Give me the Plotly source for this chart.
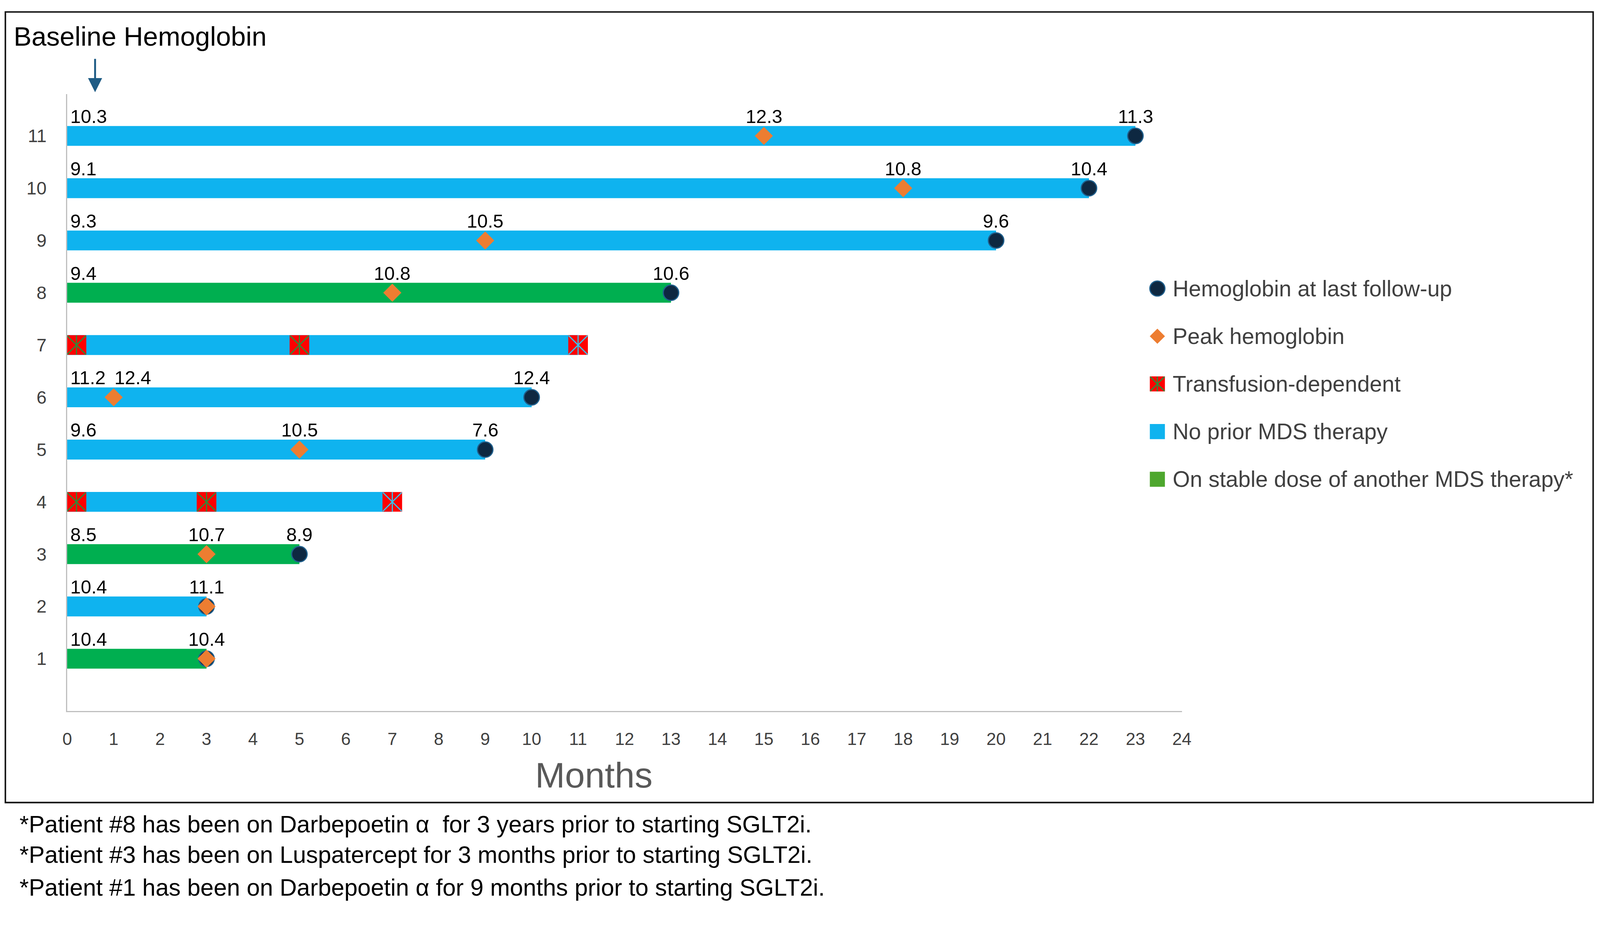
import plotly.graph_objects as go

# ---------------- data ----------------
patients = [1, 2, 3, 4, 5, 6, 7, 8, 9, 10, 11]
duration_months = [3, 3, 5, 7, 9, 10, 11, 13, 20, 22, 23]
therapy = ["stable", "none", "stable", "none", "none", "none", "none", "stable", "none", "none", "none"]

baseline_hb = [10.4, 10.4, 8.5, None, 9.6, 11.2, None, 9.4, 9.3, 9.1, 10.3]
peak_month = [3, 3, 3, None, 5, 1, None, 7, 9, 18, 15]
peak_hb = [10.4, 11.1, 10.7, None, 10.5, 12.4, None, 10.8, 10.5, 10.8, 12.3]
last_hb = [10.4, 11.1, 8.9, None, 7.6, 12.4, None, 10.6, 9.6, 10.4, 11.3]

transfusion_patient = [4, 4, 4, 7, 7, 7]
transfusion_month = [0.2, 3, 7, 0.2, 5, 11]

x_ticks = list(range(0, 25))
y_ticks = patients

legend_labels = ["Hemoglobin at last follow-up", "Peak hemoglobin", "Transfusion-dependent",
                 "No prior MDS therapy", "On stable dose of another MDS therapy*"]
footnotes = [
    "*Patient #8 has been on Darbepoetin \u03b1  for 3 years prior to starting SGLT2i.",
    "*Patient #3 has been on Luspatercept for 3 months prior to starting SGLT2i.",
    "*Patient #1 has been on Darbepoetin \u03b1 for 9 months prior to starting SGLT2i.",
]
title_text = "Baseline Hemoglobin"
x_title = "Months"

# ---------------- style ----------------
FONT = "Liberation Sans"
BLUE = "#0FB3EF"
GREEN = "#00AF50"
GREEN_LEG = "#4EA72E"
ORANGE = "#ED7D31"
NAVY = "#0E2841"
NAVY_EDGE = "#1F5F8C"
RED = "#FF0000"
XGREEN = "#2E8B3A"
XBLUE = "#35C3EE"

# page geometry: design in reference pixels, convert to page CSS px
S = 4096 / 4244
OFF = 8

def fx(r):
    return r * S - OFF

def fy(r):
    return r * S - OFF

def sz(v):
    return v * S

FW, FH = 4080, 2305
ML = fx(178)
MT = fy(250)
PLOT_BOTTOM = fy(1887)
MB = FH - PLOT_BOTTOM
PAPER_RIGHT = fx(4210)
MR = FW - PAPER_RIGHT
PW = PAPER_RIGHT - ML
PH = PLOT_BOTTOM - MT

def paper_x(r):
    return (fx(r) - ML) / PW

def paper_y(r):
    return (PLOT_BOTTOM - fy(r)) / PH

fig = go.Figure()

# bars
for key, col in [("none", BLUE), ("stable", GREEN)]:
    ys = [p for p, t in zip(patients, therapy) if t == key]
    xs = [d for d, t in zip(duration_months, therapy) if t == key]
    fig.add_trace(go.Bar(orientation="h", y=ys, x=xs, base=0, width=0.38,
                         marker=dict(color=col, line=dict(width=0)),
                         showlegend=False, hoverinfo="skip"))

# transfusion markers
dur_map = dict(zip(patients, duration_months))
fig.add_trace(go.Scatter(x=transfusion_month, y=transfusion_patient, mode="markers",
                         marker=dict(symbol="square", size=sz(52), color=RED, line=dict(width=0)),
                         showlegend=False, hoverinfo="skip"))
line_cols = [XBLUE if m == dur_map[p] else XGREEN for m, p in zip(transfusion_month, transfusion_patient)]
fig.add_trace(go.Scatter(x=transfusion_month, y=transfusion_patient, mode="markers",
                         marker=dict(symbol="x-thin-open", size=sz(50), color=line_cols,
                                     line=dict(width=3, color=line_cols)),
                         showlegend=False, hoverinfo="skip"))
fig.add_trace(go.Scatter(x=transfusion_month, y=transfusion_patient, mode="markers",
                         marker=dict(symbol="line-ns-open", size=sz(37), color=line_cols,
                                     line=dict(width=3, color=line_cols)),
                         showlegend=False, hoverinfo="skip"))

# last follow-up circles
lx = [d for d, v in zip(duration_months, last_hb) if v is not None]
ly = [p for p, v in zip(patients, last_hb) if v is not None]
fig.add_trace(go.Scatter(x=lx, y=ly, mode="markers",
                         marker=dict(symbol="circle", size=sz(41), color=NAVY,
                                     line=dict(width=3, color=NAVY_EDGE)),
                         showlegend=False, hoverinfo="skip"))

# peak diamonds
px_ = [m for m in peak_month if m is not None]
py_ = [p for p, m in zip(patients, peak_month) if m is not None]
fig.add_trace(go.Scatter(x=px_, y=py_, mode="markers",
                         marker=dict(symbol="diamond", size=sz(37), color=ORANGE, line=dict(width=0)),
                         showlegend=False, hoverinfo="skip"))

# data labels
ann = []
LBL = dict(family=FONT, size=sz(50), color="#000000")
YS = sz(52)
for p, b, pm, ph, d, lh in zip(patients, baseline_hb, peak_month, peak_hb, duration_months, last_hb):
    if b is not None:
        ann.append(dict(x=0, y=p, xref="x", yref="y", text=f"{b:.1f}", showarrow=False,
                        xanchor="left", yanchor="middle", xshift=sz(6), yshift=YS, font=LBL))
    if pm is not None:
        anchor = "left" if pm < 1.5 else "center"
        ann.append(dict(x=pm, y=p, xref="x", yref="y", text=f"{ph:.1f}", showarrow=False,
                        xanchor=anchor, yanchor="middle", yshift=YS, font=LBL))
    if lh is not None and d != pm:
        ann.append(dict(x=d, y=p, xref="x", yref="y", text=f"{lh:.1f}", showarrow=False,
                        xanchor="center", yanchor="middle", yshift=YS, font=LBL))

# ---------------- manual legend (own axes) ----------------
LX, LY = "x2", "y2"
fig.add_trace(go.Scatter(x=[0], y=[0], xaxis=LX, yaxis=LY, mode="markers",
                         marker=dict(symbol="circle", size=sz(40), color=NAVY, line=dict(width=3, color=NAVY_EDGE)),
                         showlegend=False, hoverinfo="skip"))
fig.add_trace(go.Scatter(x=[0], y=[1], xaxis=LX, yaxis=LY, mode="markers",
                         marker=dict(symbol="diamond", size=sz(31), color=ORANGE, line=dict(width=0)),
                         showlegend=False, hoverinfo="skip"))
fig.add_trace(go.Scatter(x=[0], y=[2], xaxis=LX, yaxis=LY, mode="markers",
                         marker=dict(symbol="square", size=sz(40), color=RED, line=dict(width=0)),
                         showlegend=False, hoverinfo="skip"))
fig.add_trace(go.Scatter(x=[0], y=[2], xaxis=LX, yaxis=LY, mode="markers",
                         marker=dict(symbol="x-thin-open", size=sz(38), color=XGREEN, line=dict(width=3, color=XGREEN)),
                         showlegend=False, hoverinfo="skip"))
fig.add_trace(go.Scatter(x=[0], y=[2], xaxis=LX, yaxis=LY, mode="markers",
                         marker=dict(symbol="line-ns-open", size=sz(28), color=XGREEN, line=dict(width=3, color=XGREEN)),
                         showlegend=False, hoverinfo="skip"))
fig.add_trace(go.Scatter(x=[0], y=[3], xaxis=LX, yaxis=LY, mode="markers",
                         marker=dict(symbol="square", size=sz(40), color=BLUE, line=dict(width=0)),
                         showlegend=False, hoverinfo="skip"))
fig.add_trace(go.Scatter(x=[0], y=[4], xaxis=LX, yaxis=LY, mode="markers",
                         marker=dict(symbol="square", size=sz(40), color=GREEN_LEG, line=dict(width=0)),
                         showlegend=False, hoverinfo="skip"))
for i, lab in enumerate(legend_labels):
    ann.append(dict(x=38, y=i, xref=LX, yref=LY, text=lab, showarrow=False,
                    xanchor="left", yanchor="middle",
                    font=dict(family=FONT, size=sz(59), color="#404040")))

# titles, arrow, footnotes
ann.append(dict(x=paper_x(34), y=paper_y(97), xref="paper", yref="paper",
                text=title_text, showarrow=False, xanchor="left", yanchor="middle",
                font=dict(family=FONT, size=sz(71), color="#000000")))
ann.append(dict(x=paper_x(252), y=paper_y(245), xref="paper", yref="paper",
                text="", showarrow=True, ax=0, ay=-sz(90), arrowhead=2, arrowsize=1.5,
                arrowwidth=sz(5), arrowcolor="#1F5C85", standoff=0))
ann.append(dict(x=paper_x(1575), y=paper_y(2057), xref="paper", yref="paper",
                text=x_title, showarrow=False, xanchor="center", yanchor="middle",
                font=dict(family=FONT, size=sz(95), color="#595959")))
for ry, t in zip([2187, 2268, 2355], footnotes):
    ann.append(dict(x=paper_x(49), y=paper_y(ry), xref="paper", yref="paper",
                    text=t, showarrow=False, xanchor="left", yanchor="middle",
                    font=dict(family=FONT, size=sz(63), color="#000000")))

# outer frame
shapes = [dict(type="rect", xref="paper", yref="paper",
               x0=paper_x(14), x1=paper_x(4226),
               y0=paper_y(2130), y1=paper_y(32),
               line=dict(color="#111111", width=sz(4)), fillcolor="rgba(0,0,0,0)", layer="below")]

fig.update_layout(
    width=FW, height=FH,
    margin=dict(l=ML, r=MR, t=MT, b=MB, autoexpand=False),
    paper_bgcolor="white", plot_bgcolor="white",
    barmode="overlay", showlegend=False,
    annotations=ann, shapes=shapes,
    xaxis=dict(domain=[0, paper_x(3135)], range=[0, 24], tickvals=x_ticks,
               ticktext=[str(v) for v in x_ticks], showgrid=False, zeroline=False,
               showline=True, linecolor="#BFBFBF", linewidth=sz(3),
               ticks="outside", ticklen=sz(32), tickcolor="rgba(0,0,0,0)",
               tickfont=dict(family=FONT, size=sz(46), color="#404040"), anchor="y"),
    yaxis=dict(domain=[0, 1], range=[0, 11.8], tickvals=y_ticks,
               ticktext=[str(v) for v in y_ticks], showgrid=False, zeroline=False,
               showline=True, linecolor="#BFBFBF", linewidth=sz(3),
               ticks="outside", ticklen=sz(42), tickcolor="rgba(0,0,0,0)",
               tickfont=dict(family=FONT, size=sz(48), color="#404040"), anchor="x"),
    xaxis2=dict(domain=[paper_x(3030), 1], range=[-40, 4210 - 3070], visible=False,
                anchor="y2", fixedrange=True),
    yaxis2=dict(domain=[paper_y(1330), paper_y(700)], range=[4.458, -0.522],
                visible=False, anchor="x2", fixedrange=True),
)

fig.write_html("out.html")
